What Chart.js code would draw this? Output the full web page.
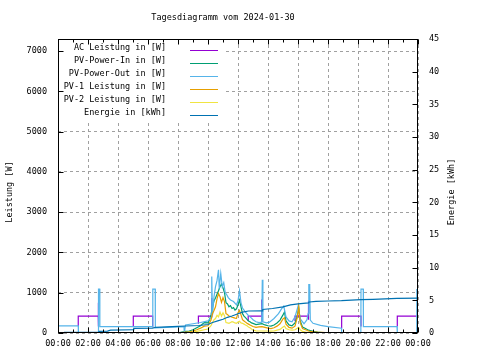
<!DOCTYPE html>
<html>
<head>
<meta charset="utf-8">
<script src="https://cdn.jsdelivr.net/npm/chart.js@4"></script>
<style>
  body { margin: 0; background: #fff; }
</style>
</head>
<body>
<canvas id="chart" width="480" height="360"></canvas>
<script>
// Achsen
var hourTicks = [0, 2, 4, 6, 8, 10, 12, 14, 16, 18, 20, 22, 24]
var wattTicks = [0, 1000, 2000, 3000, 4000, 5000, 6000, 7000]
var kwhTicks = [0, 5, 10, 15, 20, 25, 30, 35, 40, 45]

var titel = "Tagesdiagramm vom 2024-01-30"
var seriesLabels = ["AC Leistung in [W]", "PV-Power-In in [W]", "PV-Power-Out in [W]",
                    "PV-1 Leistung in [W]", "PV-2 Leistung in [W]", "Energie in [kWh]"]
var seriesColors = ["#9400d3", "#009e73", "#56b4e9", "#e69f00", "#f0e442", "#0072b2"]

// AC Leistung (null = Lücke, dort liegt die Linie unter PV-Power-Out)
var acHours = [1.35, 1.35, 2.68, 2.69, 2.70, 2.71,
               5.02, 5.02, 6.31, 6.31, 6.32,
               9.36, 9.36, 10.24, 10.24, 10.26, 10.27,
               12.68, 12.68, 13.58, 13.58, 13.60, 13.61,
               15.80, 15.80, 16.69, 16.69, 16.71, 16.72,
               18.91, 18.91, 20.20, 20.20, 20.21,
               22.62, 22.62, 23.92]
var acWatts = [175, 420, 420, 750, 160, null,
               160, 420, 420, 140, null,
               230, 420, 420, 870, 400, null,
               300, 420, 420, 830, 300, null,
               300, 420, 420, 800, 330, null,
               120, 420, 420, 160, null,
               160, 420, 420]

// PV-Power-Out
var outHours = [0, 1.35, 1.36, 2.69, 2.70, 2.78, 2.79, 6.31, 6.32, 6.48, 6.49, 8.40, 8.42,
                8.5, 9.0, 9.5, 10.0, 10.2, 10.25, 10.3, 10.4, 10.5, 10.6, 10.7, 10.75, 10.85,
                10.95, 11.05, 11.15, 11.25, 11.35, 11.5, 11.7, 11.9, 12.0, 12.1, 12.2, 12.3,
                12.5, 12.7, 12.9, 13.0, 13.2, 13.4, 13.58, 13.62, 13.66, 13.9, 14.1, 14.4,
                14.7, 14.9, 15.05, 15.2, 15.4, 15.6, 15.8, 16.0, 16.15, 16.4, 16.6, 16.68,
                16.72, 16.78, 16.82, 17.0, 17.5, 18.0, 18.9, 18.91, 20.19, 20.2, 20.35, 20.36,
                22.6, 22.62, 23.9, 23.92]
var outWatts = [175, 175, 0, 0, 1090, 1090, 160, 160, 1090, 1090, 130, 160, 0,
                200, 230, 260, 300, 380, 1400, 450, 900, 1150, 1300, 1570, 1100, 1480,
                1150, 1250, 1000, 950, 880, 820, 780, 700, 800, 1050, 750, 620,
                520, 430, 370, 330, 280, 260, 270, 1320, 280, 250, 270, 360,
                480, 600, 670, 400, 300, 280, 400, 660, 350, 230, 330, 490,
                1200, 1200, 320, 240, 190, 160, 120, 0, 0, 1090, 1090, 160,
                160, 0, 0, 1090]

// Tagesverlauf PV-Power-In, PV-1, PV-2
var dayHours = [8.0, 8.25, 8.5, 8.75, 9.0, 9.25, 9.5, 9.75, 10.0, 10.1, 10.2, 10.3, 10.4, 10.5,
                10.6, 10.7, 10.8, 10.9, 11.0, 11.1, 11.2, 11.3, 11.4, 11.5, 11.6, 11.7, 11.8,
                11.9, 12.0, 12.1, 12.2, 12.3, 12.4, 12.5, 12.6, 12.7, 12.8, 12.9, 13.0, 13.2,
                13.4, 13.6, 13.8, 14.0, 14.2, 14.4, 14.6, 14.8, 15.0, 15.1, 15.2, 15.4, 15.6,
                15.8, 15.95, 16.05, 16.15, 16.3, 16.5, 16.7, 17.0, 17.3, 17.6, 18.0]
var pvInWatts = [0, 20, 40, 50, 80, 130, 180, 260, 250, 330, 450, 650, 800, 870,
                 960, 1050, 1150, 1220, 1120, 1000, 750, 720, 650, 680, 610, 630, 570,
                 600, 700, 820, 650, 480, 420, 380, 340, 300, 280, 250, 240, 210,
                 220, 230, 200, 180, 170, 200, 250, 320, 450, 520, 300, 200, 180,
                 250, 420, 630, 300, 150, 110, 70, 40, 20, 10, 0]
var pv1Watts = [0, 10, 20, 30, 50, 80, 120, 170, 180, 250, 320, 480, 560, 650,
                850, 980, 900, 760, 880, 780, 480, 460, 420, 410, 390, 380, 370,
                365, 500, 560, 450, 330, 300, 270, 240, 220, 200, 180, 160, 140,
                150, 160, 140, 120, 110, 130, 170, 230, 350, 380, 220, 140, 120,
                170, 380, 650, 250, 110, 80, 50, 30, 20, 15, 5]
var pv2Watts = [0, 5, 10, 15, 25, 40, 60, 80, 100, 140, 180, 260, 330, 360,
                440, 400, 520, 420, 500, 430, 260, 250, 240, 260, 280, 270, 250,
                240, 270, 290, 250, 240, 220, 200, 180, 150, 130, 100, 75, 55,
                50, 50, 50, 50, 45, 50, 70, 90, 150, 170, 110, 80, 70,
                80, 120, 140, 80, 40, 20, 10, 0, 0, 0, 0]

// Energie (rechte Achse)
var energyHours = [0.4, 2.7, 2.75, 3.3, 3.5, 5.0, 5.05, 6.3, 6.5, 8.0, 8.5, 9.4, 10.0, 10.3,
                   10.7, 11.0, 11.3, 11.6, 12.0, 12.3, 12.7, 13.6, 13.65, 14.3, 15.0, 15.5,
                   16.0, 16.7, 16.75, 17.2, 18.0, 18.9, 20.2, 21.0, 22.6, 24.0]
var energyKwh = [0.1, 0.1, 0.25, 0.3, 0.45, 0.5, 0.7, 0.75, 0.85, 1.0, 1.07, 1.15, 1.3, 1.6,
                 1.9, 2.1, 2.4, 2.6, 2.95, 3.2, 3.37, 3.4, 3.6, 3.75, 4.0, 4.3,
                 4.45, 4.6, 4.75, 4.85, 4.9, 4.95, 5.1, 5.15, 5.3, 5.35]

var schrift = "'DejaVu Sans Mono', monospace"

function punkte(hours, values) {
    return hours.map(function (h, i) { return { x: h, y: values[i] } })
}

function linie(i, hours, values, achse) {
    return {
        label: seriesLabels[i],
        data: punkte(hours, values),
        borderColor: seriesColors[i],
        backgroundColor: seriesColors[i],
        borderWidth: 1.2,
        pointRadius: 0,
        tension: 0,
        spanGaps: false,
        yAxisID: achse,
        order: 6 - i
    }
}

function uhrzeit(v) {
    var h = v % 24
    return (h < 10 ? "0" : "") + h + ":00"
}

// Titel, Rahmen, Ticks nach innen, Legende und Achsentitel wie bei gnuplot
var rahmen = {
    id: 'rahmen',
    afterDatasetsDraw(chart) {
        var ctx = chart.ctx
        var a = chart.chartArea
        var sx = chart.scales.x, sy = chart.scales.y, sy2 = chart.scales.y2
        var l = Math.round(a.left) + 0.5, r = Math.round(a.right) - 0.5
        var t = Math.round(a.top) + 0.5, b = Math.round(a.bottom) - 0.5
        ctx.save()
        ctx.font = "8.5px " + schrift
        ctx.textBaseline = "middle"

        // Titel
        ctx.fillStyle = "#000"
        ctx.textAlign = "center"
        ctx.fillText(titel, 223, 18)

        // Legende
        ctx.fillStyle = "#fff"
        ctx.fillRect(l, t, 166, 81)
        ctx.textAlign = "right"
        for (var i = 0; i < seriesLabels.length; i++) {
            var yy = t + 8 + i * 13
            ctx.fillStyle = "#000"
            ctx.fillText(seriesLabels[i], 166, yy)
            ctx.strokeStyle = seriesColors[i]
            ctx.lineWidth = 1
            ctx.beginPath()
            ctx.moveTo(190, Math.round(yy + 2) + 0.5)
            ctx.lineTo(218, Math.round(yy + 2) + 0.5)
            ctx.stroke()
        }

        // Rahmen
        ctx.strokeStyle = "#000"
        ctx.lineWidth = 1
        ctx.strokeRect(l, t, r - l, b - t)

        ctx.beginPath()
        wattTicks.forEach(function (v) {
            var p = Math.round(sy.getPixelForValue(v)) + 0.5
            ctx.moveTo(l, p); ctx.lineTo(l + 5, p)
        })
        kwhTicks.forEach(function (v) {
            var p = Math.round(sy2.getPixelForValue(v)) + 0.5
            ctx.moveTo(r, p); ctx.lineTo(r - 5, p)
        })
        for (var h = 0; h <= 24; h++) {
            var p = Math.round(sx.getPixelForValue(h)) + 0.5
            var len = h % 2 === 0 ? 5 : 3
            ctx.moveTo(p, b); ctx.lineTo(p, b - len)
            ctx.moveTo(p, t); ctx.lineTo(p, t + len)
        }
        ctx.stroke()

        // Achsentitel
        ctx.fillStyle = "#000"
        ctx.textAlign = "center"
        ctx.save()
        ctx.translate(10, 192)
        ctx.rotate(-Math.PI / 2)
        ctx.fillText("Leistung [W]", 0, 0)
        ctx.restore()
        ctx.save()
        ctx.translate(452, 192)
        ctx.rotate(-Math.PI / 2)
        ctx.fillText("Energie [kWh]", 0, 0)
        ctx.restore()

        ctx.restore()
    }
}

var ctx = document.getElementById('chart')

new Chart(ctx, {
    type: 'line',
    data: {
        datasets: [
            linie(0, acHours, acWatts, 'y'),
            linie(1, dayHours, pvInWatts, 'y'),
            linie(2, outHours, outWatts, 'y'),
            linie(3, dayHours, pv1Watts, 'y'),
            linie(4, dayHours, pv2Watts, 'y'),
            linie(5, energyHours, energyKwh, 'y2')
        ]
    },
    options: {
        responsive: false,
        devicePixelRatio: 1,
        animation: false,
        layout: { padding: { top: 39, left: 0, right: 0, bottom: 0 } },
        plugins: {
            legend: { display: false },
            tooltip: { enabled: false },
            title: { display: false }
        },
        scales: {
            x: {
                type: 'linear',
                min: 0,
                max: 24,
                afterBuildTicks: function (s) { s.ticks = hourTicks.map(function (v) { return { value: v } }) },
                afterFit: function (s) { s.height = 27 },
                ticks: {
                    callback: uhrzeit,
                    color: "#000",
                    font: { family: schrift, size: 8.5 },
                    padding: 6,
                    maxRotation: 0,
                    autoSkip: false
                },
                grid: { color: "#a0a0a0", drawTicks: false },
                border: { display: false, dash: [3, 3] }
            },
            y: {
                position: 'left',
                min: 0,
                max: 7300,
                afterBuildTicks: function (s) { s.ticks = wattTicks.map(function (v) { return { value: v } }) },
                afterFit: function (s) { s.width = 58 },
                ticks: {
                    callback: function (v) { return String(v) },
                    color: "#000",
                    font: { family: schrift, size: 8.5 },
                    padding: 11
                },
                grid: { color: "#a0a0a0", drawTicks: false },
                border: { display: false, dash: [3, 3] }
            },
            y2: {
                position: 'right',
                min: 0,
                max: 45,
                afterBuildTicks: function (s) { s.ticks = kwhTicks.map(function (v) { return { value: v } }) },
                afterFit: function (s) { s.width = 62 },
                ticks: {
                    callback: function (v) { return String(v) },
                    color: "#000",
                    font: { family: schrift, size: 8.5 },
                    padding: 11
                },
                grid: { drawOnChartArea: false, drawTicks: false },
                border: { display: false }
            }
        }
    },
    plugins: [rahmen]
})
</script>
</body>
</html>
